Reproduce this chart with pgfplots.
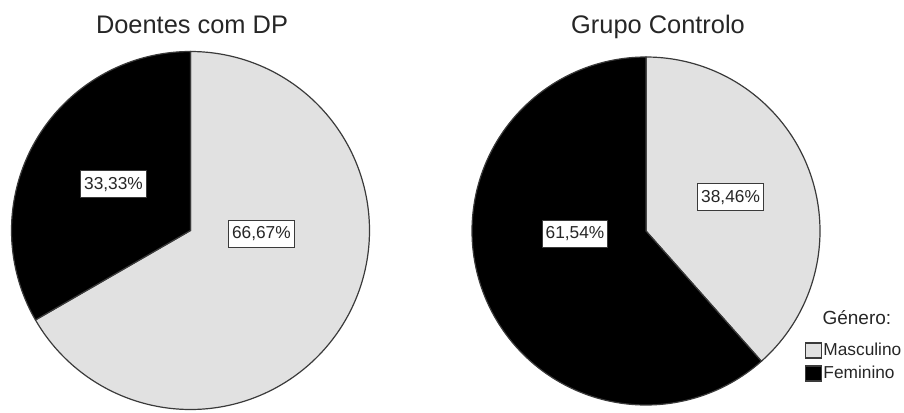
\documentclass[border=0pt]{standalone}
\usepackage{pgfplots}
\pgfplotsset{compat=1.18}
\usepackage{fontspec}
\setmainfont{Liberation Sans}
\definecolor{pieGray}{HTML}{E1E1E1}
\definecolor{edge}{HTML}{3A3A3A}
\definecolor{txt}{HTML}{262626}
% data (percentages)
\def\DPmasc{66.67}\def\DPfem{33.33}
\def\GCmasc{38.46}\def\GCfem{61.54}
\begin{document}
\begin{tikzpicture}[x=1bp,y=1bp,
  lbl/.style={draw=edge, fill=white, line width=1bp, text=txt,
    font=\fontsize{17.3bp}{20bp}\selectfont, inner xsep=3.5bp, inner ysep=0bp,
    minimum height=27bp}]
\useasboundingbox (0,0) rectangle (904,412);
\coordinate (cL) at (190.5,181.5);
\coordinate (cR) at (646,181);
\pgfmathsetmacro{\aDP}{90-3.6*\DPmasc}
\pgfmathsetmacro{\bDP}{90+3.6*\DPfem}
\pgfmathsetmacro{\aGC}{90-3.6*\GCmasc}
\pgfmathsetmacro{\bGC}{90+3.6*\GCfem}
\node[anchor=base, text=txt, font=\fontsize{25.4bp}{30bp}\selectfont] at (192,379) {Doentes com DP};
\node[anchor=base, text=txt, font=\fontsize{25.4bp}{30bp}\selectfont] at (658,379) {Grupo Controlo};
\begin{axis}[at={(cL)}, anchor=center, scale only axis,
  width=358bp, height=358bp, xmin=-1, xmax=1, ymin=-1, ymax=1,
  hide axis, clip=false]
\addplot[fill=pieGray, draw=edge, line width=1.2bp, domain=\aDP:90, samples=200] ({cos(x)},{sin(x)}) -- (axis cs:0,0) -- cycle;
\addplot[fill=black, draw=edge, line width=1.2bp, domain=90:\bDP, samples=120] ({cos(x)},{sin(x)}) -- (axis cs:0,0) -- cycle;
\node[lbl] at (axis cs:-0.43,0.257) {33,33\%};
\node[lbl] at (axis cs:0.396,-0.018) {66,67\%};
\end{axis}
\begin{axis}[at={(cR)}, anchor=center, scale only axis,
  width=348bp, height=348bp, xmin=-1, xmax=1, ymin=-1, ymax=1,
  hide axis, clip=false,
  legend style={at={(rel axis cs:0.957,0.19)}, anchor=north west, draw=none, fill=none,
    font=\fontsize{17.3bp}{20bp}\selectfont, text=txt, row sep=0bp,
    inner sep=0bp, nodes={inner xsep=1bp, inner ysep=3bp, text height=13bp, text depth=4bp}},
  legend cell align=left,
  legend image code/.code={\draw[#1] (0bp,-7.5bp) rectangle (16bp,7.5bp);}]
\addplot[fill=pieGray, draw=edge, line width=1.2bp, domain=\aGC:90, samples=120] ({cos(x)},{sin(x)}) -- (axis cs:0,0) -- cycle;
\addlegendentry{Masculino}
\addplot[fill=black, draw=edge, line width=1.2bp, domain=90:\bGC, samples=200] ({cos(x)},{sin(x)}) -- (axis cs:0,0) -- cycle;
\addlegendentry{Feminino}
\node[lbl] at (axis cs:0.486,0.193) {38,46\%};
\node[lbl] at (axis cs:-0.408,-0.017) {61,54\%};
\end{axis}
\node[anchor=base west, text=txt, font=\fontsize{19bp}{22bp}\selectfont] at (819,88) {Género:};
\end{tikzpicture}
\end{document}
